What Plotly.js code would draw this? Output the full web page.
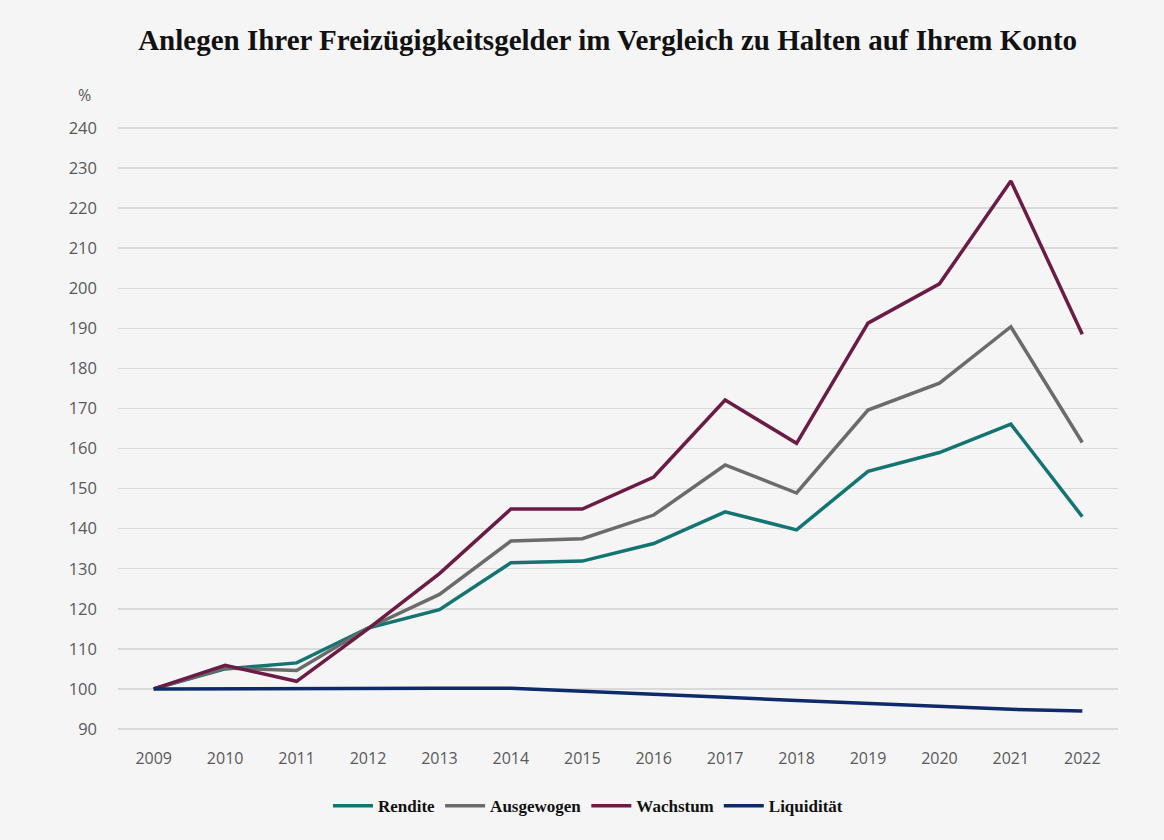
<!DOCTYPE html>
<html>
<head>
<meta charset="utf-8">
<script src="https://cdn.plot.ly/plotly-3.0.1.min.js"></script>
<style>
  html, body { margin: 0; padding: 0; background: #f5f5f5; }
  #chart { width: 1164px; height: 840px; }
</style>
</head>
<body>
<div id="chart"></div>
<script>
// Jahre
var years = ['2009', '2010', '2011', '2012', '2013', '2014', '2015',
             '2016', '2017', '2018', '2019', '2020', '2021', '2022'];

// Werte in % (Start 2009 = 100)
var rendite    = [100, 105.0, 106.5, 115.2, 119.8, 131.5, 131.9, 136.3, 144.2, 139.7, 154.3, 159.0, 166.1, 143.0];
var ausgewogen = [100, 105.2, 104.6, 115.2, 123.6, 136.9, 137.5, 143.4, 155.9, 148.9, 169.6, 176.3, 190.4, 161.5];
var wachstum   = [100, 105.9, 101.9, 115.0, 128.8, 144.9, 144.9, 152.9, 172.1, 161.3, 191.3, 201.1, 226.8, 188.5];
var liquiditaet = [100, 100.1, 100.1, 100.2, 100.2, 100.2, 99.5, 98.7, 97.9, 97.1, 96.4, 95.6, 94.9, 94.5];

var yTicks = [90, 100, 110, 120, 130, 140, 150, 160, 170, 180, 190, 200, 210, 220, 230, 240];

function makeLine(name, values, color) {
    return {
        x: years,
        y: values,
        name: name,
        type: 'scatter',
        mode: 'lines',
        line: {color: color, width: 3.5},
        hoverinfo: 'x+y+name'
    };
}

var data = [
    makeLine('Rendite', rendite, '#137471'),
    makeLine('Ausgewogen', ausgewogen, '#6b6b6b'),
    makeLine('Wachstum', wachstum, '#6a1c44'),
    makeLine('Liquidität', liquiditaet, '#0f2a6b')
];

var layout = {
    width: 1164,
    height: 840,
    paper_bgcolor: '#f5f5f5',
    plot_bgcolor: '#f5f5f5',
    margin: {l: 118, r: 46, t: 124, b: 107},
    font: {family: '"Open Sans", "DejaVu Sans", sans-serif', color: '#595959', size: 16},
    title: {
        text: 'Anlegen Ihrer Freizügigkeitsgelder im Vergleich zu Halten auf Ihrem Konto',
        font: {family: '"Liberation Serif", "DejaVu Serif", serif', size: 29, color: '#111111', weight: 'bold'},
        x: 0.522,
        xanchor: 'center',
        y: 0.952,
        yanchor: 'middle'
    },
    xaxis: {
        type: 'category',
        range: [-0.5, 13.5],
        showgrid: false,
        zeroline: false,
        showline: false,
        ticks: '',
        ticklabelstandoff: 14,
        tickfont: {size: 16, color: '#595959'},
        fixedrange: true
    },
    yaxis: {
        range: [89, 241],
        tickvals: yTicks,
        ticktext: yTicks.map(String),
        showgrid: true,
        gridcolor: '#d9d9d9',
        gridwidth: 1.5,
        zeroline: false,
        showline: false,
        ticks: '',
        ticklabelstandoff: 20,
        tickfont: {size: 16.5, color: '#595959'},
        fixedrange: true
    },
    showlegend: true,
    legend: {
        orientation: 'h',
        x: 0.47,
        xanchor: 'center',
        y: -0.12,
        yanchor: 'middle',
        font: {family: '"Liberation Serif", "DejaVu Serif", serif', size: 17, color: '#111111', weight: 'bold'},
        itemwidth: 40,
        bgcolor: 'rgba(0,0,0,0)'
    },
    annotations: [{
        text: '%',
        xref: 'paper',
        yref: 'paper',
        x: -0.034,
        y: 1.047,
        xanchor: 'center',
        yanchor: 'middle',
        showarrow: false,
        font: {size: 16, color: '#595959'}
    }]
};

Plotly.newPlot('chart', data, layout, {displayModeBar: false, staticPlot: true});
</script>
</body>
</html>
